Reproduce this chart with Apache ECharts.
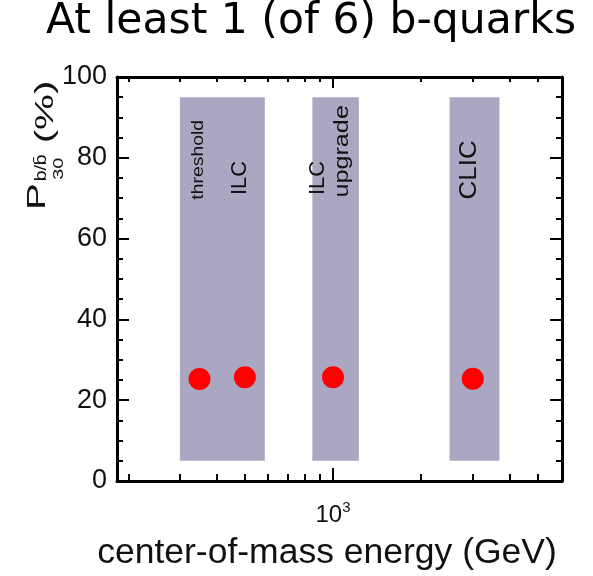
<!DOCTYPE html>
<html>
<head>
<meta charset="utf-8" />
<title>At least 1 (of 6) b-quarks</title>
<script src="https://cdn.jsdelivr.net/npm/echarts@6/dist/echarts.min.js"></script>
</head>
<body style="margin:0">
<div id="main" style="width:593px;height:576px;"></div>
<script type="text/javascript">
// centre-of-mass energy (GeV) and fraction with >= 1 b-quark (%)
var energies = [350, 500, 1000, 3000];
var fractions = [25.25, 25.7, 25.7, 25.3];

// shaded machine ranges (GeV), height in %
var bandFrom = [300, 850, 2500];
var bandTo = [585, 1225, 3700];
var bandLow = 5;
var bandHigh = 95;

// captions inside the bands
var captionText = ['threshold', 'ILC', 'ILC', 'upgrade', 'CLIC'];
var captionE = [346, 482, 889, 1073, 2912];
var captionY = [79.5, 75, 75, 81.6, 77];
var captionSize = [17, 22, 22, 21, 24];
var captionStretch = [1.14, 1, 1, 1.2, 1.08];

// x range (GeV) and tick positions
var xMin = 183, xMax = 6050;
var minorTicks = [200, 300, 400, 500, 600, 700, 800, 900, 2000, 3000, 4000, 5000];
var majorTicks = [1000];

var myChart = echarts.init(document.getElementById('main'));
var font = 'Liberation Sans';
var black = '#000';
var ink = '#111';

function lg(v) { return Math.log10(v); }

// decorative axes in log10 space, only for ticks / labels
function tickAxis(pos, values, len, withLine, withLabel) {
	return {
		type: 'value',
		position: pos,
		min: lg(xMin),
		max: lg(xMax),
		axisLine: { show: withLine, onZero: false, lineStyle: { color: black, width: 3 } },
		axisTick: { show: true, inside: true, length: len, customValues: values.map(lg), lineStyle: { color: black, width: 2 } },
		axisLabel: {
			show: withLabel,
			customValues: values.map(lg),
			margin: 19,
			formatter: function() { return '{b|10}{s|3}'; },
			rich: {
				b: { fontSize: 24, fontFamily: font, color: ink },
				s: { fontSize: 15, fontFamily: font, color: ink, padding: [0, 0, 16, 0] }
			}
		},
		splitLine: { show: false }
	};
}

function yAxis(pos, withLabel) {
	return {
		type: 'value',
		position: pos,
		min: 0,
		max: 100,
		interval: 20,
		axisLine: { show: true, lineStyle: { color: black, width: 3 } },
		axisTick: { show: true, inside: true, length: 12, lineStyle: { color: black, width: 2 } },
		minorTick: { show: true, splitNumber: 4, length: 6, lineStyle: { color: black, width: 2 } },
		axisLabel: { show: withLabel, fontSize: 27, fontFamily: font, color: ink, margin: 10 },
		splitLine: { show: false }
	};
}

var option = {
	animation: false,
	title: {
		text: 'At least 1 (of 6) b-quarks',
		left: 46,
		top: 0,
		padding: 0,
		textStyle: { fontFamily: 'DejaVu Sans', fontSize: 42.5, fontWeight: 'normal', color: black }
	},
	grid: { left: 117, right: 31, top: 77, bottom: 95 },
	xAxis: [
		{ type: 'log', min: xMin, max: xMax, show: false },
		tickAxis('bottom', minorTicks, 7, true, false),
		tickAxis('bottom', majorTicks, 13, false, true),
		tickAxis('top', minorTicks, 5, true, false),
		tickAxis('top', majorTicks, 11, false, false)
	],
	yAxis: [yAxis('left', true), yAxis('right', false)],
	graphic: [
		{
			// y-axis title, read bottom to top
			type: 'group',
			x: 51,
			y: 210,
			rotation: Math.PI / 2,
			scaleX: 1.55,
			children: [
				{ type: 'text', x: 0, y: 0, style: { text: 'P', fontSize: 26, fontFamily: font, fill: ink, verticalAlign: 'bottom' } },
				{ type: 'text', x: 18.5, y: -1, scaleX: 0.78, style: { text: 'b/b\u0304', fontSize: 16, fontFamily: font, fill: ink, verticalAlign: 'bottom' } },
				{ type: 'text', x: 19.5, y: 15, scaleX: 0.85, style: { text: '30', fontSize: 15, fontFamily: font, fill: ink, verticalAlign: 'bottom' } },
				{ type: 'text', x: 43, y: 8, style: { text: '(%)', fontSize: 26, fontFamily: font, fill: ink, verticalAlign: 'bottom' } }
			]
		},
		{
			type: 'text',
			x: 327,
			y: 553,
			style: { text: 'center-of-mass energy (GeV)', fontSize: 35.5, fontFamily: font, fill: ink, align: 'center', verticalAlign: 'middle' }
		}
	],
	series: [
		{
			type: 'custom',
			xAxisIndex: 0,
			yAxisIndex: 0,
			z: 1,
			data: bandFrom.map(function(f, i) { return [f, bandTo[i], bandLow, bandHigh]; }),
			encode: { x: [0, 1], y: [2, 3] },
			renderItem: function(params, api) {
				var p0 = api.coord([api.value(0), api.value(3)]);
				var p1 = api.coord([api.value(1), api.value(2)]);
				return {
					type: 'rect',
					shape: { x: p0[0], y: p0[1], width: p1[0] - p0[0], height: p1[1] - p0[1] },
					style: { fill: '#aaa7c2' }
				};
			}
		},
		{
			type: 'custom',
			xAxisIndex: 0,
			yAxisIndex: 0,
			z: 2,
			data: captionE.map(function(e, i) { return [e, captionY[i]]; }),
			renderItem: function(params, api) {
				var p = api.coord([api.value(0), api.value(1)]);
				var i = params.dataIndex;
				return {
					type: 'text',
					x: p[0],
					y: p[1],
					rotation: Math.PI / 2,
					scaleX: captionStretch[i],
					style: { text: captionText[i], fontSize: captionSize[i], fontFamily: font, fill: ink, align: 'center', verticalAlign: 'middle' }
				};
			}
		},
		{
			type: 'scatter',
			xAxisIndex: 0,
			yAxisIndex: 0,
			z: 3,
			symbol: 'circle',
			symbolSize: 22,
			itemStyle: { color: '#ff0000', opacity: 1 },
			data: energies.map(function(e, i) { return [e, fractions[i]]; })
		}
	]
};

myChart.setOption(option);
</script>
</body>
</html>
